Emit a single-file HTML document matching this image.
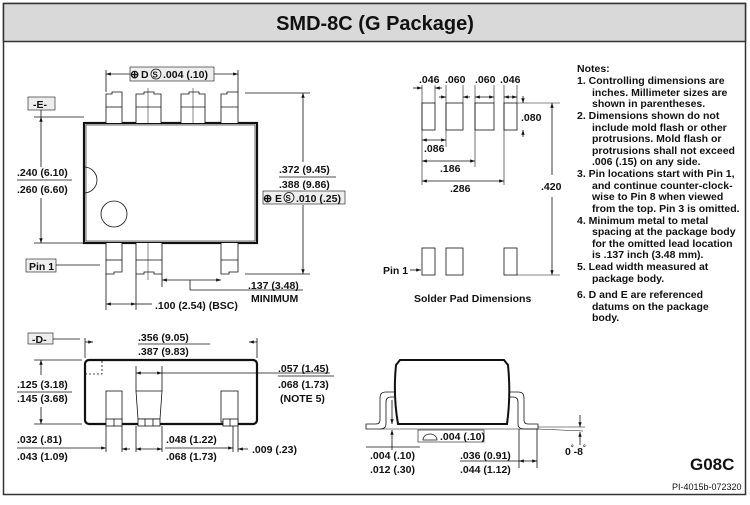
<!DOCTYPE html>
<html><head><meta charset="utf-8"><style>
body{margin:0;background:#fff}
svg text{font-family:"Liberation Sans",sans-serif;font-weight:bold;font-size:10.5px;fill:#111}
</style></head><body>
<svg width="750" height="500" viewBox="0 0 750 500" xmlns="http://www.w3.org/2000/svg">
<defs>
<marker id="a" viewBox="0 0 10 10" refX="10" refY="5" markerWidth="7" markerHeight="6" orient="auto-start-reverse"><path d="M0,1.5 L10,5 L0,8.5z" fill="#111"/></marker>
</defs>
<rect x="3.5" y="3.5" width="742" height="491" fill="none" stroke="#333" stroke-width="1.5"/>
<rect x="3.5" y="3.5" width="742" height="38" fill="#d9d9d9" stroke="#333" stroke-width="1.5"/>
<text x="375" y="30" text-anchor="middle" style="font-size:20px">SMD-8C (G Package)</text>

<g stroke="#111" fill="none" stroke-width="0.8">
<rect x="84" y="123" width="173" height="120" stroke-width="2.2"/>
<rect x="86" y="125" width="169" height="116" stroke-width="0.6"/>
<path d="M84,167 A13,13 0 0 1 84,193"/>
<circle cx="114" cy="214" r="13"/>
<g fill="#fff">
<path d="M106,123 V94 H112 V92 H122 V123"/><line x1="106" y1="107" x2="122" y2="107"/>
<path d="M136,123 V94 H144 V92 H154 V94 H161 V123"/><line x1="136" y1="107" x2="161" y2="107"/>
<path d="M181,123 V94 H189 V92 H199 V94 H205 V123"/><line x1="181" y1="107" x2="205" y2="107"/>
<path d="M221,123 V94 H227 V92 H238 V123"/><line x1="221" y1="107" x2="238" y2="107"/>
<path d="M106,243 V274 H114 V272 H122 V243"/><line x1="106" y1="260" x2="122" y2="260"/>
<path d="M136,243 V274 H144 V272 H154 V274 H162 V243"/><line x1="136" y1="260" x2="162" y2="260"/>
<path d="M221,243 V274 H229 V272 H238 V243"/><line x1="221" y1="260" x2="238" y2="260"/>
</g>
<line x1="148" y1="88" x2="148" y2="123" stroke-width="0.5"/><line x1="193" y1="88" x2="193" y2="123" stroke-width="0.5"/>
<line x1="148" y1="243" x2="148" y2="280" stroke-width="0.5"/>
<line x1="106" y1="70" x2="106" y2="92"/><line x1="238" y1="70" x2="238" y2="92"/>
<line x1="106" y1="74" x2="130" y2="74" marker-start="url(#a)"/><line x1="214" y1="74" x2="238" y2="74" marker-end="url(#a)"/>
<rect x="130" y="67" width="84" height="14" fill="#eee" stroke-width="0.6"/>
<rect x="28" y="97" width="27" height="13" fill="#eee" stroke-width="0.6"/>
<line x1="41" y1="110" x2="41" y2="117"/>
<line x1="34" y1="117" x2="84" y2="117"/><line x1="34" y1="243" x2="84" y2="243"/>
<line x1="41" y1="117" x2="41" y2="167" marker-start="url(#a)"/><line x1="41" y1="198" x2="41" y2="243" marker-end="url(#a)"/>
<line x1="17" y1="180" x2="72" y2="180"/>
<rect x="26" y="259" width="30" height="13" fill="#eee" stroke-width="0.6"/>
<line x1="56" y1="265" x2="100" y2="265"/>
<line x1="245" y1="93" x2="310" y2="93"/><line x1="245" y1="274" x2="310" y2="274"/>
<line x1="303" y1="93" x2="303" y2="162" marker-start="url(#a)"/><line x1="303" y1="205" x2="303" y2="274" marker-end="url(#a)"/>
<line x1="279" y1="177" x2="336" y2="177"/>
<rect x="263" y="191" width="82" height="13" fill="#eee" stroke-width="0.6"/>
<line x1="162" y1="274" x2="162" y2="287"/>
<line x1="162" y1="280" x2="221" y2="280" marker-start="url(#a)" marker-end="url(#a)"/>
<line x1="190" y1="280" x2="190" y2="290"/><line x1="190" y1="290" x2="303" y2="290"/>
<line x1="106" y1="274" x2="106" y2="310"/><line x1="136" y1="274" x2="136" y2="310"/>
<line x1="106" y1="304" x2="136" y2="304" marker-start="url(#a)" marker-end="url(#a)"/>
<line x1="136" y1="304" x2="152" y2="304"/>

<rect x="85" y="360" width="172" height="64" rx="4" stroke-width="2.2"/>
<path d="M85,374 H102 V360" stroke-dasharray="2,2"/>
<g fill="#fff">
<rect x="106" y="391" width="16" height="31"/><rect x="106" y="419" width="16" height="7"/><line x1="114" y1="419" x2="114" y2="426"/>
<path d="M136,391 H162 L160,419 H138 Z"/><rect x="138" y="419" width="22" height="7"/><line x1="145" y1="419" x2="145" y2="426"/><line x1="153" y1="419" x2="153" y2="426"/>
<rect x="221" y="391" width="17" height="31"/><rect x="223" y="419" width="15" height="7"/><line x1="230" y1="419" x2="230" y2="426"/>
</g>
<rect x="28" y="333" width="25" height="11" fill="#eee" stroke-width="0.6"/>
<line x1="53" y1="339" x2="80" y2="339"/>
<line x1="85" y1="338" x2="85" y2="358"/><line x1="257" y1="338" x2="257" y2="358"/>
<line x1="85" y1="342" x2="93" y2="342" marker-end="url(#a)"/><line x1="249" y1="342" x2="257" y2="342" marker-start="url(#a)"/>
<line x1="138" y1="344" x2="210" y2="344"/>
<line x1="34" y1="360" x2="82" y2="360"/><line x1="34" y1="424" x2="82" y2="424"/>
<line x1="41" y1="360" x2="41" y2="375" marker-start="url(#a)"/><line x1="41" y1="407" x2="41" y2="424" marker-end="url(#a)"/>
<line x1="17" y1="392" x2="72" y2="392"/>
<line x1="136" y1="366" x2="136" y2="391"/><line x1="162" y1="366" x2="162" y2="391"/>
<line x1="136" y1="373" x2="162" y2="373" marker-start="url(#a)" marker-end="url(#a)"/>
<line x1="162" y1="373" x2="330" y2="373"/>
<line x1="278" y1="376" x2="334" y2="376"/>
<line x1="106" y1="426" x2="106" y2="452"/><line x1="122" y1="426" x2="122" y2="452"/>
<line x1="136" y1="426" x2="136" y2="452"/><line x1="162" y1="426" x2="162" y2="452"/>
<line x1="233" y1="426" x2="233" y2="452"/><line x1="238" y1="426" x2="238" y2="452"/>
<line x1="75" y1="448" x2="106" y2="448" marker-end="url(#a)"/><line x1="17" y1="448" x2="75" y2="448"/>
<line x1="122" y1="449" x2="130" y2="449" marker-start="url(#a)"/>
<line x1="136" y1="449" x2="162" y2="449" marker-start="url(#a)" marker-end="url(#a)"/>
<line x1="165" y1="448" x2="221" y2="448"/><line x1="221" y1="448" x2="233" y2="448" marker-end="url(#a)"/>
<line x1="238" y1="449" x2="248" y2="449" marker-start="url(#a)"/>

<path d="M400,360 H504 L508,365 Q511,395 507,424 H398 Q393,395 396,365 Z" stroke-width="2" fill="#fff"/>
<path d="M396,392 H386 Q380,392 380,398 V420 Q380,424 376,424 H366 V429 H380 Q386,429 386,424 V402 Q386,397 391,397 H396"/>
<path d="M509,392 H518 Q524,392 524,398 V420 Q524,424 528,424 H538 V429 H524 Q518,429 518,424 V402 Q518,397 513,397 H509"/>
<line x1="380" y1="429" x2="538" y2="429" stroke-width="0.6"/>
<line x1="538" y1="429" x2="583" y2="431" stroke-width="0.6"/>
<line x1="538" y1="427" x2="585" y2="427" stroke-width="0.6"/>
<line x1="392" y1="400" x2="392" y2="424" marker-end="url(#a)"/>
<line x1="392" y1="450" x2="392" y2="430" marker-end="url(#a)"/>
<line x1="366" y1="447" x2="420" y2="447"/>
<rect x="418" y="430" width="66" height="12" stroke-width="0.6"/>
<path d="M423,440 A7,6 0 0 1 437,440 Z" stroke-width="0.8"/>
<line x1="519" y1="429" x2="519" y2="468"/><line x1="537" y1="429" x2="537" y2="468"/>
<line x1="519" y1="461" x2="537" y2="461" marker-start="url(#a)" marker-end="url(#a)"/>
<line x1="460" y1="461" x2="519" y2="461"/>
<line x1="580" y1="415" x2="580" y2="427" marker-end="url(#a)"/>
<line x1="580" y1="445" x2="580" y2="432" marker-end="url(#a)"/>

<rect x="422" y="103" width="13" height="27"/><rect x="446" y="103" width="17" height="27"/>
<rect x="475" y="103" width="19" height="27"/><rect x="504" y="103" width="13" height="27"/>
<rect x="422" y="248" width="13" height="27"/><rect x="446" y="248" width="17" height="27"/>
<rect x="504" y="248" width="13" height="27"/>
<g stroke-width="0.6">
<line x1="422" y1="85" x2="422" y2="185"/><line x1="435" y1="85" x2="435" y2="103"/>
<line x1="446" y1="85" x2="446" y2="147"/><line x1="463" y1="85" x2="463" y2="103"/>
<line x1="475" y1="85" x2="475" y2="167"/><line x1="494" y1="85" x2="494" y2="103"/>
<line x1="504" y1="85" x2="504" y2="185"/><line x1="517" y1="85" x2="517" y2="103"/>
<line x1="517" y1="103" x2="560" y2="103"/><line x1="517" y1="275" x2="560" y2="275"/>
</g>
<line x1="413" y1="88" x2="422" y2="88" marker-end="url(#a)"/><line x1="435" y1="88" x2="442" y2="88" marker-start="url(#a)"/>
<line x1="439" y1="97" x2="446" y2="97" marker-end="url(#a)"/><line x1="463" y1="97" x2="470" y2="97" marker-start="url(#a)"/>
<line x1="475" y1="97" x2="494" y2="97" marker-start="url(#a)" marker-end="url(#a)"/>
<line x1="504" y1="97" x2="517" y2="97" marker-start="url(#a)" marker-end="url(#a)"/>
<line x1="523" y1="96" x2="523" y2="103" marker-end="url(#a)"/><line x1="523" y1="137" x2="523" y2="130" marker-end="url(#a)"/>
<line x1="422" y1="140" x2="446" y2="140" marker-start="url(#a)" marker-end="url(#a)"/>
<line x1="422" y1="161" x2="475" y2="161" marker-start="url(#a)" marker-end="url(#a)"/>
<line x1="422" y1="181" x2="504" y2="181" marker-start="url(#a)" marker-end="url(#a)"/>
<line x1="552" y1="103" x2="552" y2="175" marker-start="url(#a)"/><line x1="552" y1="197" x2="552" y2="275" marker-end="url(#a)"/>
<line x1="410" y1="270" x2="421" y2="270" marker-end="url(#a)"/>
</g>

<text x="130" y="78" style="font-size:11px">⊕</text><text x="141" y="78">D</text>
<circle cx="156" cy="74" r="5" fill="none" stroke="#111" stroke-width="0.8"/><text x="152.5" y="77.5" style="font-size:8px">S</text>
<text x="163" y="78">.004 (.10)</text>
<text x="33" y="108">-E-</text>
<text x="17" y="176">.240 (6.10)</text><text x="17" y="193">.260 (6.60)</text>
<text x="29" y="270">Pin 1</text>
<text x="279" y="173">.372 (9.45)</text><text x="279" y="188">.388 (9.86)</text>
<text x="263" y="202" style="font-size:11px">⊕</text><text x="275" y="202">E</text>
<circle cx="289" cy="197.5" r="5" fill="none" stroke="#111" stroke-width="0.8"/><text x="285.5" y="201" style="font-size:8px">S</text>
<text x="296" y="202">.010 (.25)</text>
<text x="248" y="289">.137 (3.48)</text><text x="251" y="302">MINIMUM</text>
<text x="155" y="309">.100 (2.54) (BSC)</text>
<text x="32" y="343">-D-</text>
<text x="138" y="341">.356 (9.05)</text><text x="138" y="355">.387 (9.83)</text>
<text x="17" y="388">.125 (3.18)</text><text x="17" y="402">.145 (3.68)</text>
<text x="278" y="372">.057 (1.45)</text><text x="278" y="388">.068 (1.73)</text><text x="280" y="402">(NOTE 5)</text>
<text x="17" y="443">.032 (.81)</text><text x="17" y="460">.043 (1.09)</text>
<text x="166" y="443">.048 (1.22)</text><text x="166" y="460">.068 (1.73)</text>
<text x="252" y="453">.009 (.23)</text>
<text x="440" y="440">.004 (.10)</text>
<text x="370" y="459">.004 (.10)</text><text x="370" y="473">.012 (.30)</text>
<text x="460" y="459">.036 (0.91)</text><text x="460" y="473">.044 (1.12)</text>
<text x="565" y="455">0<tspan dy="-5" style="font-size:7px">°</tspan><tspan dy="5">-8</tspan><tspan dy="-5" style="font-size:7px">°</tspan></text>
<text x="690" y="470" style="font-size:17px">G08C</text>
<text x="672" y="490" style="font-size:9px;font-weight:normal">PI-4015b-072320</text>
<text x="419" y="83">.046</text><text x="445" y="83">.060</text><text x="475" y="83">.060</text><text x="500" y="83">.046</text>
<text x="521" y="121">.080</text>
<text x="424" y="152">.086</text><text x="440" y="172">.186</text><text x="450" y="192">.286</text>
<text x="541" y="190">.420</text>
<text x="383" y="274">Pin 1</text>
<text x="414" y="302">Solder Pad Dimensions</text>
<g style="font-size:10px">
<text x="577" y="72">Notes:</text>
<text x="577" y="84">1.  Controlling dimensions are</text>
<text x="592" y="96">inches. Millimeter sizes are</text>
<text x="592" y="107">shown in parentheses.</text>
<text x="577" y="119">2.  Dimensions shown do not</text>
<text x="592" y="131">include mold flash or other</text>
<text x="592" y="142">protrusions. Mold flash or</text>
<text x="592" y="154">protrusions shall not exceed</text>
<text x="592" y="165">.006 (.15) on any side.</text>
<text x="577" y="177">3.  Pin locations start with Pin 1,</text>
<text x="592" y="189">and continue counter-clock-</text>
<text x="592" y="200">wise to Pin 8 when viewed</text>
<text x="592" y="212">from the top. Pin 3 is omitted.</text>
<text x="577" y="224">4.  Minimum metal to metal</text>
<text x="592" y="235">spacing at the package body</text>
<text x="592" y="247">for the omitted lead location</text>
<text x="592" y="258">is .137 inch (3.48 mm).</text>
<text x="577" y="270">5.  Lead width measured at</text>
<text x="592" y="282">package body.</text>
<text x="577" y="298">6.  D and E are referenced</text>
<text x="592" y="310">datums on the package</text>
<text x="592" y="321">body.</text>
</g>
</svg>
</body></html>
